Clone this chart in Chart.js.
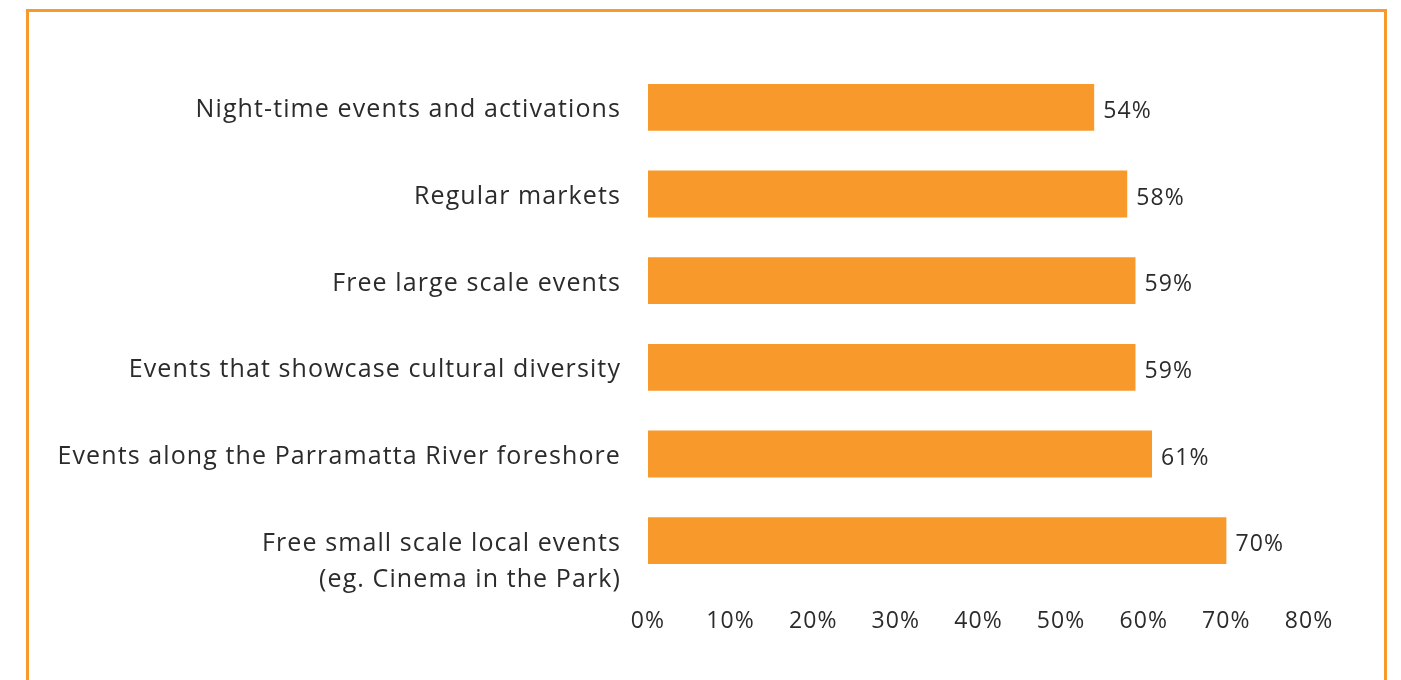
<!DOCTYPE html>
<html lang="en">
<head>
    <meta charset="UTF-8">
    <title>Events</title>
    <style>
      body { margin: 0; background: #fff; }
      .frame { position: absolute; left: 26px; top: 9px; width: 1355px; height: 700px; border: 3px solid #f7992b; border-bottom: none; }
      .wrap { position: absolute; left: 0; top: 0; width: 1401px; height: 680px; }
    </style>
</head>
<body>
    <div class="frame"></div>
    <div class="wrap">
        <canvas id="myChart"></canvas>
    </div>

    <script src="https://cdn.jsdelivr.net/npm/chart.js"></script>

    <script>
      const categories = [
        'Night-time events and activations',
        'Regular markets',
        'Free large scale events',
        'Events that showcase cultural diversity',
        'Events along the Parramatta River foreshore',
        ['Free small scale local events', '(eg. Cinema in the Park)']
      ];
      const values = [54, 58, 59, 59, 61, 70];
      const xTicks = [0, 10, 20, 30, 40, 50, 60, 70, 80];

      const textColor = '#2b2b2b';
      const fontFamily = "'Open Sans', sans-serif";

      // the original font is wider than Open Sans, so space the letters a bit
      const spacing = {
        id: 'spacing',
        beforeLayout(chart) { chart.ctx.letterSpacing = '1.1px'; },
        beforeDraw(chart) { chart.ctx.letterSpacing = '1.1px'; }
      };

      // value labels at the end of each bar
      const barLabels = {
        id: 'barLabels',
        afterDatasetsDraw(chart) {
          const ctx = chart.ctx;
          const meta = chart.getDatasetMeta(0);
          ctx.save();
          ctx.fillStyle = textColor;
          ctx.font = '23px ' + fontFamily;
          ctx.textAlign = 'left';
          ctx.textBaseline = 'middle';
          meta.data.forEach((bar, i) => {
            ctx.fillText(values[i] + '%', bar.x + 9, bar.y + 4);
          });
          ctx.restore();
        }
      };

      const ctx = document.getElementById('myChart');
      ctx.width = 1401;
      ctx.height = 680;

      let chart = new Chart(ctx, {
        type: 'bar',
        data: {
          labels: categories,
          datasets: [{
            data: values,
            backgroundColor: '#f7992b',
            borderWidth: 0,
            categoryPercentage: 0.54,
            barPercentage: 1
          }]
        },
        options: {
          indexAxis: 'y',
          responsive: false,
          animation: false,
          layout: { padding: { left: 0, right: 92, top: 64, bottom: 0 } },
          plugins: {
            legend: { display: false },
            tooltip: { enabled: false }
          },
          scales: {
            x: {
              min: 0,
              max: 80,
              afterFit(scale) { scale.height = 96; },
              afterBuildTicks(scale) { scale.ticks = xTicks.map(v => ({ value: v })); },
              grid: { display: false, drawTicks: false },
              border: { display: false },
              ticks: {
                padding: 24,
                maxRotation: 0,
                color: textColor,
                font: { family: fontFamily, size: 23 },
                callback: v => v + '%'
              }
            },
            y: {
              afterFit(scale) {
                scale.width = 648;
                scale.paddingTop = 0;
                scale.paddingBottom = 0;
              },
              grid: { display: false, drawTicks: false },
              border: { display: false },
              ticks: {
                autoSkip: false,
                padding: 27,
                labelOffset: 3,
                color: textColor,
                font: { family: fontFamily, size: 25, lineHeight: 1.45 },
                callback: function (v, i) {
                  const lab = categories[i];
                  // first line of the two-line label sits level with the bar
                  return Array.isArray(lab) ? [''].concat(lab) : lab;
                }
              }
            }
          }
        },
        plugins: [spacing, barLabels]
      });
    </script>
</body>
</html>
